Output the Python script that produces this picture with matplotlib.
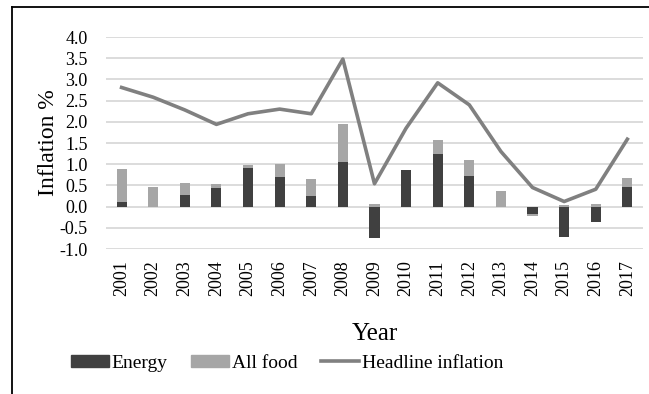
import numpy as np
import matplotlib.pyplot as plt
from matplotlib.lines import Line2D

plt.rcParams['font.family'] = ['Liberation Serif', 'DejaVu Serif']

years = ['2001', '2002', '2003', '2004', '2005', '2006', '2007', '2008', '2009',
         '2010', '2011', '2012', '2013', '2014', '2015', '2016', '2017']
energy = [0.12, 0.0, 0.28, 0.45, 0.90, 0.71, 0.24, 1.05, -0.75,
          0.87, 1.24, 0.73, 0.0, -0.18, -0.71, -0.37, 0.46]
food = [0.77, 0.46, 0.28, 0.09, 0.07, 0.30, 0.41, 0.90, 0.05,
        0.0, 0.33, 0.36, 0.38, -0.04, 0.03, 0.05, 0.21]
headline = [2.81, 2.58, 2.28, 1.94, 2.19, 2.30, 2.19, 3.48, 0.54,
            1.85, 2.92, 2.40, 1.30, 0.45, 0.12, 0.41, 1.59]

energy = np.array(energy)
food = np.array(food)
x = np.arange(len(years))

# food stacks on energy when both share a sign, otherwise starts from zero
food_base = np.where(np.sign(food) == np.sign(energy), energy, 0.0)

fig = plt.figure(figsize=(6.49, 3.94), dpi=100)
ax = fig.add_axes([0.163, 0.368, 0.828, 0.538])

ax.bar(x, energy, width=0.32, color='#404040', zorder=2)
ax.bar(x, food, width=0.32, bottom=food_base, color='#a6a6a6', zorder=2)
ax.plot(x, headline, color='#808080', linewidth=2.6, zorder=3)

ax.set_xlim(-0.5, len(years) - 0.5)
ax.set_ylim(-1.0, 4.0)
ax.set_yticks(np.arange(-1.0, 4.01, 0.5))
ax.set_yticklabels([f'{v:.1f}' for v in np.arange(-1.0, 4.01, 0.5)], fontsize=13)
ax.set_xticks(x)
ax.set_xticklabels(years, rotation=90, fontsize=13)
ax.tick_params(axis='y', length=0, pad=13)
ax.tick_params(axis='x', length=0, pad=8)
ax.grid(axis='y', color='#d9d9d9', linewidth=1.3, zorder=0)
for s in ax.spines.values():
    s.set_visible(False)

ax.set_ylabel('Inflation %', fontsize=17, labelpad=0)
ax.set_xlabel('Year', fontsize=18, labelpad=19)

handles = [
    plt.Rectangle((0, 0), 1, 1, color='#404040'),
    plt.Rectangle((0, 0), 1, 1, color='#a6a6a6'),
    Line2D([0], [0], color='#808080', linewidth=2.6),
]
fig.legend(handles, ['Energy', 'All food', 'Headline inflation'],
           loc='center', bbox_to_anchor=(0.442, 0.078), ncol=3, frameon=False,
           fontsize=14, handlelength=1.95, handleheight=0.6, handletextpad=0.15,
           columnspacing=1.2, borderpad=0, borderaxespad=0)

# outer frame (top and left edges)
fig.add_artist(Line2D([11.5 / 649, 1.0], [1 - 7 / 394, 1 - 7 / 394],
                      color='black', linewidth=1.3, transform=fig.transFigure))
fig.add_artist(Line2D([11.5 / 649, 11.5 / 649], [1 - 7 / 394, 0.0],
                      color='black', linewidth=1.3, transform=fig.transFigure))

fig.savefig('out.png', dpi=100)
